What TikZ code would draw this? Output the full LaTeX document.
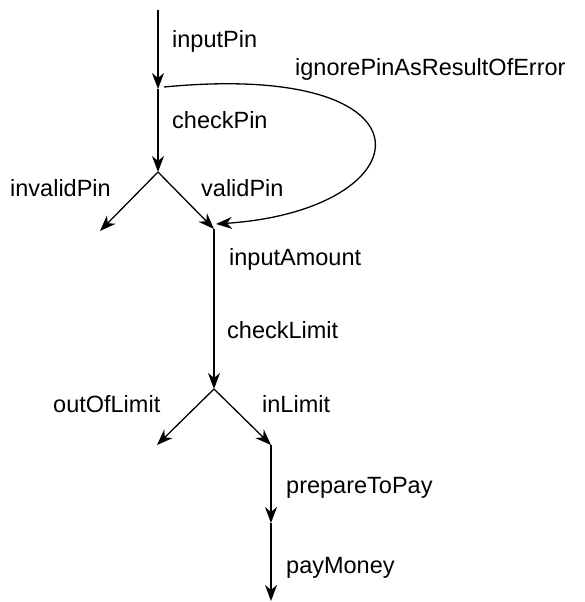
\documentclass[tikz,border=0pt]{standalone}
\usepackage{fontspec}
\setmainfont{Liberation Sans}
\usetikzlibrary{arrows.meta}
\begin{document}
\begin{tikzpicture}[x=1pt,y=-1pt,
  flow/.style={line width=1.3pt,-{Stealth[length=16pt,width=12pt,inset=5pt]}},
  lbl/.style={anchor=base west,inner sep=0pt,font=\fontsize{23.5}{28}\selectfont}]
\useasboundingbox (0,0) rectangle (584,602);
% junction points of the flow
\coordinate (start) at (158,10);
\coordinate (n1) at (158,89);
\coordinate (n2) at (158,172);
\coordinate (e1) at (100,231);
\coordinate (n3) at (214,229);
\coordinate (n4) at (214,389);
\coordinate (e2) at (157,445);
\coordinate (n5) at (271,445);
\coordinate (n6) at (271,523);
\coordinate (e3) at (271,601);
\coordinate (loopA) at (164,87);
\coordinate (loopB) at (216,224);
% transitions
\draw[flow] (start) -- (n1);
\draw[flow] (n1) -- (n2);
\draw[flow] (n2) -- (e1);
\draw[flow] (n2) -- (n3);
\draw[flow] (loopA) .. controls (445,60) and (425,210) .. (loopB);
\draw[flow] (n3) -- (n4);
\draw[flow] (n4) -- (e2);
\draw[flow] (n4) -- (n5);
\draw[flow] (n5) -- (n6);
\draw[flow] (n6) -- (e3);
% labels
\node[lbl] (tInputPin) at (172,48) {inputPin};
\node[lbl] (tIgnore) at (295,75) {ignorePinAsResultOfError};
\node[lbl] (tCheckPin) at (172,128) {checkPin};
\node[lbl] (tInvalid) at (10,196) {invalidPin};
\node[lbl] (tValid) at (201,196) {validPin};
\node[lbl] (tAmount) at (229,265) {inputAmount};
\node[lbl] (tCheckLimit) at (227,338) {checkLimit};
\node[lbl] (tOut) at (53,412) {outOfLimit};
\node[lbl] (tIn) at (262,412) {inLimit};
\node[lbl] (tPrepare) at (286,493) {prepareToPay};
\node[lbl] (tPay) at (286,573) {payMoney};
\end{tikzpicture}
\end{document}
